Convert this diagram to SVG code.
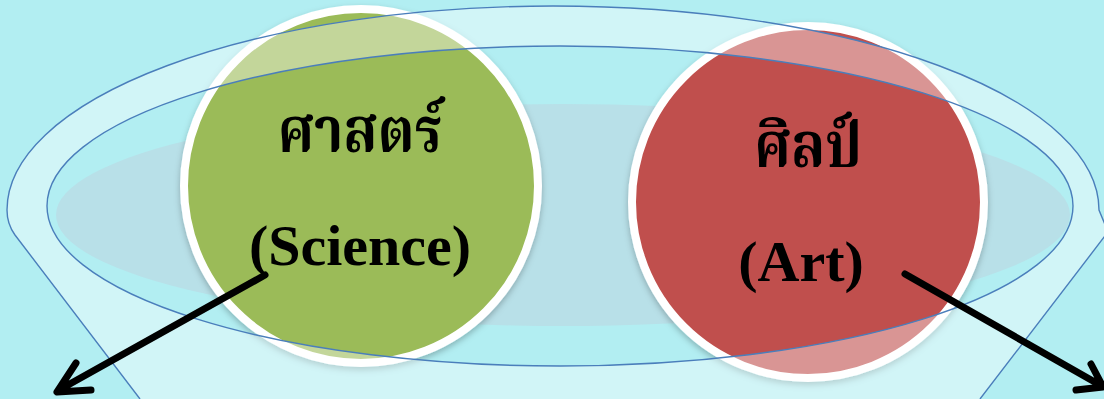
<svg xmlns="http://www.w3.org/2000/svg" width="1104" height="399" viewBox="0 0 1104 399">
<defs>
<style>
.bg{fill:#b2eef2}
.liquid{fill:#b8e0e8}
.circle{stroke:#ffffff;stroke-width:8}
.rim{fill:#ffffff;fill-opacity:0.4;fill-rule:evenodd;stroke:none}
.line{fill:none;stroke:#4a7ebb;stroke-width:1.4}
.th{font-family:"Noto Serif Thai","Noto Sans Thai Looped","Noto Sans Thai","Liberation Serif",serif;font-weight:bold;fill:#000;text-anchor:middle}
.en{font-family:"Liberation Serif","Times New Roman",serif;font-weight:bold;font-size:58px;fill:#000;text-anchor:middle}
.arrow{fill:none;stroke:#000;stroke-width:7;stroke-linecap:round;stroke-linejoin:round}
</style>
<filter id="sh" x="-10%" y="-10%" width="120%" height="125%">
<feDropShadow dx="0" dy="3" stdDeviation="3" flood-color="#000" flood-opacity="0.25"/>
</filter>
</defs>
<rect class="bg" x="0" y="0" width="1104" height="399"/>
<ellipse class="liquid" cx="563" cy="215" rx="507" ry="111"/>
<g id="science">
<circle class="circle" cx="361" cy="186" r="177" fill="#9bbb59" filter="url(#sh)"/>
</g>
<g id="art">
<circle class="circle" cx="808" cy="202" r="176" fill="#c0504d" filter="url(#sh)"/>
</g>
<g id="cup">
<path class="rim" d="M140,399 L15,235 Q7,224 7,210 A546,204 0 0 1 1099,210 L1108,232 L980,399 Z M47,206 A513,160 0 1 0 1073,206 A513,160 0 1 0 47,206 Z"/>
<path class="line" d="M140,399 L15,235 Q7,224 7,210 A546,204 0 0 1 1099,210 L1108,232 L980,399"/>
<ellipse class="line" cx="560" cy="206" rx="513" ry="160"/>
</g>
<g id="science-label">
<text class="th" x="360" y="152" font-size="62" textLength="165" lengthAdjust="spacingAndGlyphs">ศาสตร์</text>
<text class="en" x="360" y="265">(Science)</text>
</g>
<g id="art-label">
<text class="th" x="808" y="167" font-size="62" textLength="108" lengthAdjust="spacingAndGlyphs">ศิลป์</text>
<text class="en" x="801" y="281">(Art)</text>
</g>
<g id="connectors">
<path class="arrow" d="M265,275 L59,390 M76,363 L57,392 L91,390"/>
<path class="arrow" d="M905,274 L1100,385 M1091,364 L1103,387 L1076,390"/>
</g>
</svg>
